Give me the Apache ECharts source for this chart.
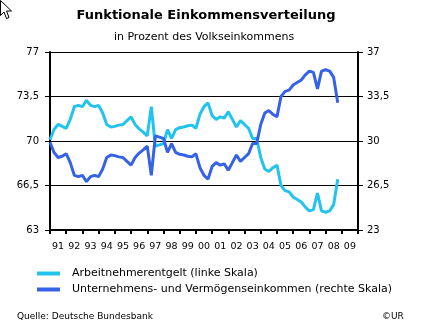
<!DOCTYPE html>
<html>
<head>
<meta charset="utf-8">
<script src="https://cdn.jsdelivr.net/npm/echarts@6/dist/echarts.min.js"></script>
<style>
html,body{margin:0;padding:0;background:#fff;}
#c{width:425px;height:328px;}
</style>
</head>
<body>
<div id="c"></div>
<script>
// Year labels (category band labels)
const yearLabels = ['91','92','93','94','95','96','97','98','99','00','01','02','03','04','05','06','07','08','09'];
// Quarterly series, 1991 Q1 onwards
const arbeitnehmerentgelt = [
  70.1, 70.9, 71.3, 71.15, 71.0, 71.7, 72.7, 72.8, 72.7, 73.2,
  72.8, 72.7, 72.8, 72.2, 71.3, 71.1, 71.15, 71.25, 71.3, 71.6,
  71.9, 71.3, 70.95, 70.7, 70.4, 72.7, 69.6, 69.7, 69.8, 70.9,
  70.2, 70.9, 71.05, 71.1, 71.2, 71.25, 71.0, 72.1, 72.7, 73.0,
  72.0, 71.7, 71.9, 71.8, 72.3, 71.7, 71.1, 71.6, 71.3, 71.0,
  70.2, 70.2, 68.7, 67.8, 67.6, 67.9, 68.1, 66.5, 66.1, 66.0,
  65.6, 65.4, 65.2, 64.8, 64.5, 64.6, 65.9, 64.5, 64.4, 64.5,
  65.0, 67.0
];
const unternehmenseinkommen = [
  29.9, 29.1, 28.7, 28.8, 29.0, 28.3, 27.3, 27.2, 27.3, 26.8,
  27.2, 27.3, 27.2, 27.8, 28.7, 28.9, 28.85, 28.75, 28.7, 28.4,
  28.1, 28.7, 29.05, 29.3, 29.6, 27.3, 30.4, 30.3, 30.2, 29.1,
  29.8, 29.1, 28.95, 28.9, 28.8, 28.75, 29.0, 27.9, 27.3, 27.0,
  28.0, 28.3, 28.1, 28.2, 27.7, 28.3, 28.9, 28.4, 28.7, 29.0,
  29.8, 29.8, 31.3, 32.2, 32.4, 32.1, 31.9, 33.5, 33.9, 34.0,
  34.4, 34.6, 34.8, 35.2, 35.5, 35.4, 34.1, 35.5, 35.6, 35.5,
  35.0, 33.0
];
const startYear = 1991;
const step = 0.25;

const FONT = '"DejaVu Sans", Verdana, sans-serif';
const comma = v => String(v).replace('.', ',');

const chart = echarts.init(document.getElementById('c'), null, {renderer: 'canvas'});
const toPts = arr => arr.map((v, i) => [startYear + i * step, v]);

chart.setOption({
  animation: false,
  backgroundColor: '#fff',
  title: [
    {text: 'Funktionale Einkommensverteilung', left: 201, top: 4, textAlign: 'center',
     textStyle: {fontFamily: FONT, fontSize: 13, fontWeight: 'bold', color: '#000'}},
    {text: 'in Prozent des Volkseinkommens', left: 199, top: 27, textAlign: 'center',
     textStyle: {fontFamily: FONT, fontSize: 11, fontWeight: 'normal', color: '#000'}},
    {text: 'Quelle: Deutsche Bundesbank', left: 12, top: 307,
     textStyle: {fontFamily: FONT, fontSize: 9, fontWeight: 'normal', color: '#000'}},
    {text: '©UR', left: 377, top: 307,
     textStyle: {fontFamily: FONT, fontSize: 9, fontWeight: 'normal', color: '#000'}}
  ],
  grid: {left: 50, right: 67, top: 52, bottom: 98, containLabel: false},
  legend: {
    orient: 'vertical', left: 32, top: 263, itemGap: 5,
    itemWidth: 23, itemHeight: 4, icon: 'rect',
    textStyle: {fontFamily: FONT, fontSize: 11, color: '#000', padding: [0, 0, 0, 7]},
    data: ['Arbeitnehmerentgelt (linke Skala)', 'Unternehmens- und Vermögenseinkommen (rechte Skala)']
  },
  xAxis: [
    {type: 'value', min: 1991, max: 2010, interval: 1, position: 'bottom',
     axisLine: {show: true, onZero: false, lineStyle: {color: '#000', width: 2}},
     axisTick: {show: true, inside: false, length: 4, lineStyle: {color: '#000', width: 2}},
     axisLabel: {show: false}, splitLine: {show: false}},
    {type: 'category', data: yearLabels, boundaryGap: true, position: 'bottom',
     axisLine: {show: false}, axisTick: {show: false}, splitLine: {show: false},
     axisLabel: {fontFamily: FONT, fontSize: 9.5, color: '#000', margin: 12, interval: 0}}
  ],
  yAxis: [
    {type: 'value', min: 63, max: 77, interval: 3.5, position: 'left',
     axisLine: {show: true, lineStyle: {color: '#000', width: 2}},
     axisTick: {show: true, length: 5, lineStyle: {color: '#000', width: 1}},
     axisLabel: {fontFamily: FONT, fontSize: 10, color: '#000', margin: 11, formatter: comma},
     splitLine: {show: true, lineStyle: {color: '#000', width: 1}}},
    {type: 'value', min: 23, max: 37, interval: 3.5, position: 'right',
     axisLine: {show: true, lineStyle: {color: '#000', width: 2}},
     axisTick: {show: true, length: 5, lineStyle: {color: '#000', width: 1}},
     axisLabel: {fontFamily: FONT, fontSize: 10, color: '#000', margin: 9, formatter: comma},
     splitLine: {show: false}}
  ],
  series: [
    {name: 'Arbeitnehmerentgelt (linke Skala)', type: 'line', xAxisIndex: 0, yAxisIndex: 0,
     data: toPts(arbeitnehmerentgelt), showSymbol: false, symbol: 'none',
     itemStyle: {color: '#22c4ee'}, lineStyle: {color: '#22c4ee', width: 3}},
    {name: 'Unternehmens- und Vermögenseinkommen (rechte Skala)', type: 'line', xAxisIndex: 0, yAxisIndex: 1,
     data: toPts(unternehmenseinkommen), showSymbol: false, symbol: 'none',
     itemStyle: {color: '#3562e6'}, lineStyle: {color: '#3562e6', width: 3}}
  ],
  graphic: [
    {type: 'polygon', left: 0, top: 0, silent: true,
     shape: {points: [[1,1],[1,16],[4.5,12.5],[7,19],[9.5,18],[7,11.5],[12,11.5]]},
     style: {fill: '#fff', stroke: '#000', lineWidth: 1}}
  ]
});
</script>
</body>
</html>
